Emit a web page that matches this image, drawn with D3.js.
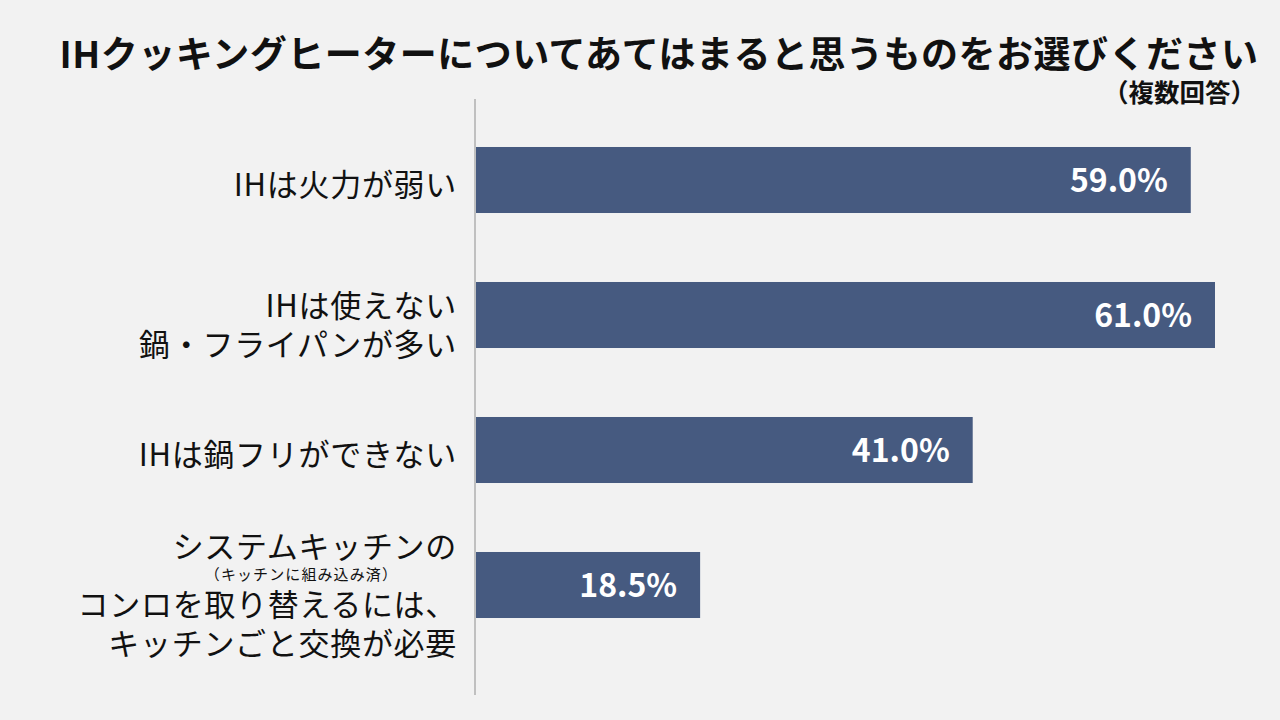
<!DOCTYPE html>
<html lang="ja">
<head>
  <meta charset="utf-8">
  <title>IH</title>
  <script src="https://cdn.jsdelivr.net/npm/d3@7"></script>
  <style>
    * { margin: 0; padding: 0; }
    body { background: #f2f2f2; }
    svg text { font-family: "Noto Sans CJK JP", "Noto Sans", sans-serif; }
  </style>
</head>
<body>
  <div id="chart"></div>
  <script>
    // data
    var categories = [
      "IHは火力が弱い",
      "IHは使えない\n鍋・フライパンが多い",
      "IHは鍋フリができない",
      "システムキッチンの\n（キッチンに組み込み済）\nコンロを取り替えるには、\nキッチンごと交換が必要"
    ];
    var values = [59.0, 61.0, 41.0, 18.5];
    var title = "IHクッキングヒーターについてあてはまると思うものをお選びください";
    var subtitle = "（複数回答）";

    var width = 1280, height = 720;
    var left = 476;

    var svg = d3.select("#chart").append("svg")
        .attr("width", width)
        .attr("height", height);

    svg.append("rect").attr("width", width).attr("height", height).attr("fill", "#f2f2f2");

    var x = d3.scaleLinear().domain([0, 61]).range([left, 1215]);
    var y = d3.scaleBand().domain(categories)
        .range([112.5, 652.5])
        .paddingInner(0.511)
        .paddingOuter(0.2555);

    // title
    svg.append("text")
        .attr("x", 1258.5).attr("y", 68)
        .attr("text-anchor", "end")
        .attr("font-size", "37px").attr("font-weight", "bold")
        .attr("letter-spacing", "0.5px")
        .attr("fill", "#111")
        .text(title);
    svg.append("text")
        .attr("x", 1256).attr("y", 102)
        .attr("text-anchor", "end")
        .attr("font-size", "25.5px").attr("font-weight", "bold")
        .attr("fill", "#111")
        .text(subtitle);

    // bars
    svg.selectAll("rect.bar").data(values).enter().append("rect")
        .attr("class", "bar")
        .attr("x", x(0))
        .attr("y", function(d, i) { return y(categories[i]); })
        .attr("width", function(d) { return x(d) - x(0); })
        .attr("height", y.bandwidth())
        .attr("fill", "#465a80");

    svg.selectAll("text.val").data(values).enter().append("text")
        .attr("class", "val")
        .attr("x", function(d) { return x(d) - 23; })
        .attr("y", function(d, i) { return y(categories[i]) + y.bandwidth() / 2 + 12; })
        .attr("text-anchor", "end")
        .attr("font-size", "32px").attr("font-weight", "bold")
        .attr("fill", "#fff")
        .text(function(d) { return d.toFixed(1) + "%"; });

    // axis line
    svg.append("line")
        .attr("x1", 475).attr("x2", 475)
        .attr("y1", 99).attr("y2", 695)
        .attr("stroke", "#c0c0c0").attr("stroke-width", 2);

    // category labels (lines in （） are small notes)
    function isNote(l) { return l.charAt(0) === "（"; }
    categories.forEach(function(c) {
      var lines = c.split("\n");
      var cy = y(c) + y.bandwidth() / 2;
      // baseline offsets relative to first line
      var offs = [0];
      for (var i = 1; i < lines.length; i++) {
        var gap = isNote(lines[i]) ? 22 : (isNote(lines[i - 1]) ? 36 : 39.5);
        offs.push(offs[i - 1] + gap);
      }
      var span = offs[offs.length - 1];
      var first = cy + (lines.length > 1 ? 21.5 : 16) - span / 2;
      lines.forEach(function(l, i) {
        var small = isNote(l);
        svg.append("text")
          .attr("x", small ? 398 : 457)
          .attr("y", first + offs[i])
          .attr("text-anchor", "end")
          .attr("font-size", small ? "15px" : "31px")
          .attr("letter-spacing", small ? "1.1px" : "0.7px")
          .attr("fill", "#111")
          .text(l);
      });
    });
  </script>
</body>
</html>
